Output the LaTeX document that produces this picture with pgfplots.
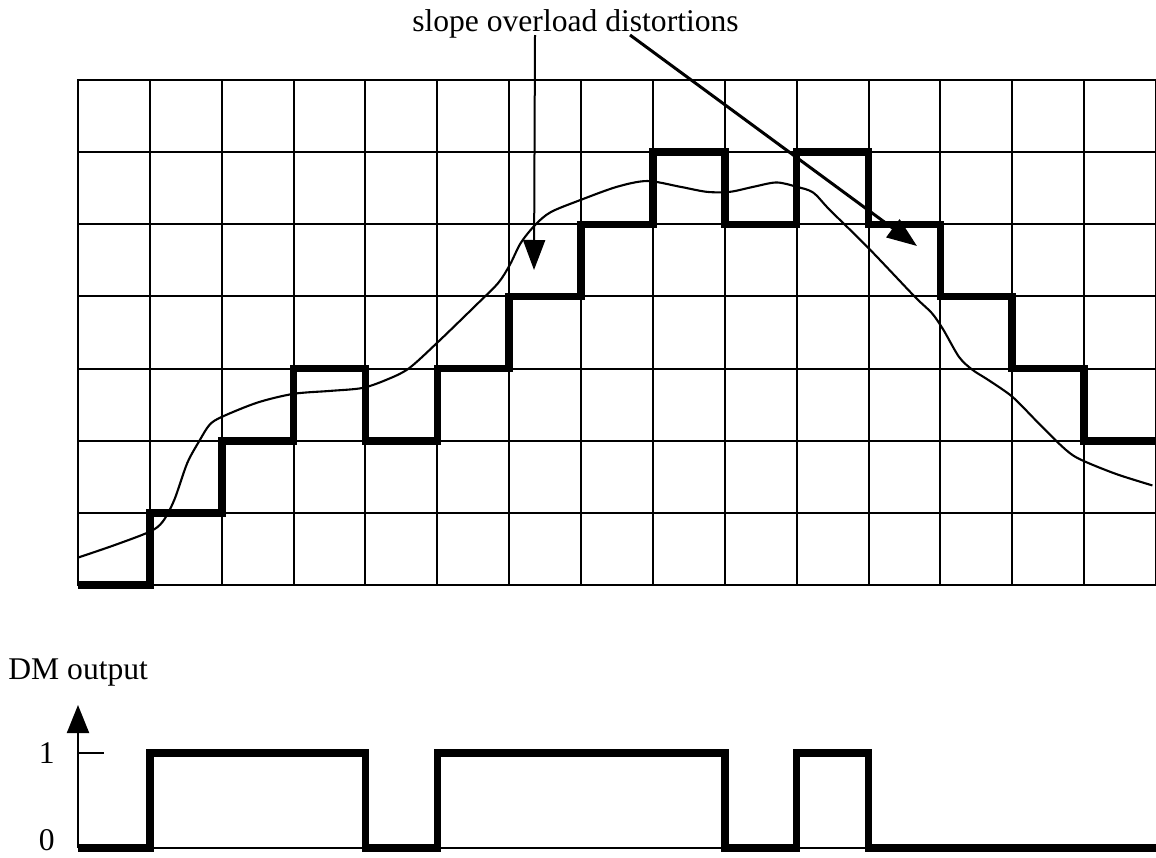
\documentclass[border=0pt]{standalone}
\usepackage{fontspec}
\setmainfont{Liberation Serif}
\usepackage{pgfplots}
\pgfplotsset{compat=1.18}
\usetikzlibrary{arrows.meta}
\def\s{0.5pt}
\begin{document}
\begin{tikzpicture}[font=\fontsize{15.8}{19}\selectfont]
% top: grid with staircase approximation and analog signal
\begin{axis}[
  at={({78*\s},{-585*\s})}, anchor=south west,
  scale only axis, width={1078*\s}, height={505*\s},
  xmin=0, xmax=15, ymin=0, ymax=7,
  xtick={0,...,15}, ytick={0,...,7},
  xticklabels={}, yticklabels={},
  major tick length=0pt,
  grid=major, grid style={black, line width=1pt},
  axis line style={black, line width=1pt},
  clip=false,
]
\addplot[black, line width=1.05pt, smooth, tension=0.5] coordinates {
(0,0.38) (0.5,0.55) (1.0,0.74) (1.18,0.88) (1.34,1.18) (1.52,1.69) (1.69,2.0)
(1.83,2.22) (2.0,2.33) (2.5,2.53) (3.0,2.65) (3.5,2.69) (3.95,2.73) (4.28,2.84)
(4.6,3.0) (5.0,3.36) (5.57,3.91) (5.85,4.19) (6.01,4.44) (6.16,4.74) (6.36,4.99)
(6.58,5.17) (7.0,5.34) (7.5,5.52) (7.92,5.60) (8.38,5.52) (8.75,5.45) (9.07,5.45)
(9.40,5.52) (9.72,5.58) (10.0,5.52) (10.23,5.44) (10.46,5.20) (11.0,4.67)
(11.64,4.0) (11.88,3.77) (12.04,3.54) (12.26,3.16) (12.45,2.98) (12.67,2.84)
(13.0,2.61) (13.32,2.29) (13.64,1.97) (13.84,1.80) (14.06,1.69) (14.47,1.53)
(14.95,1.38)
};
\addplot[black, line width=3.8pt, const plot, line join=miter] coordinates {
(0,0) (1,1) (2,2) (3,3) (4,2) (5,3) (6,4) (7,5) (8,6) (9,5) (10,6) (11,5)
(12,4) (13,3) (14,2) (15,2)
};
\end{axis}
% bottom: DM output
\begin{axis}[
  at={({78*\s},{-848*\s})}, anchor=south west,
  scale only axis, width={1078*\s}, height={143*\s},
  xmin=0, xmax=15, ymin=0, ymax=1.505,
  axis x line=bottom, axis y line=left,
  x axis line style={-, line width=0.8pt},
  y axis line style={-{Triangle[length=14pt,width=11pt]}, line width=1pt},
  xtick=\empty, ytick={0,1}, yticklabels={\raisebox{8pt}{0},1},
  tick align=inside, major tick length=13pt,
  tick style={black, line width=1pt},
  yticklabel style={anchor=east, inner sep=0.5pt, xshift=-11pt},
  /pgf/number format/assume math mode=true,
  clip=false,
]
\addplot[black, line width=3.8pt, const plot, line join=miter] coordinates {
(0,0) (1,1) (4,0) (5,1) (9,0) (10,1) (11,0) (15,0)
};
\end{axis}
\node[anchor=base west, inner sep=0pt] at ({8*\s},{-679*\s}) {DM output};
\node[anchor=base, inner sep=0pt] at ({575.5*\s},{-31*\s}) {slope overload distortions};
\draw[line width=1pt, -{Triangle[length=15pt,width=11pt]}] ({535*\s},{-35*\s}) -- ({534*\s},{-270*\s});
\draw[line width=1.5pt, -{Triangle[length=15pt,width=11pt]}] ({630*\s},{-35*\s}) -- ({917*\s},{-246*\s});
\pgfresetboundingbox
\path[use as bounding box] (0,0) rectangle ({1156*\s},{-857*\s});
\end{tikzpicture}
\end{document}
